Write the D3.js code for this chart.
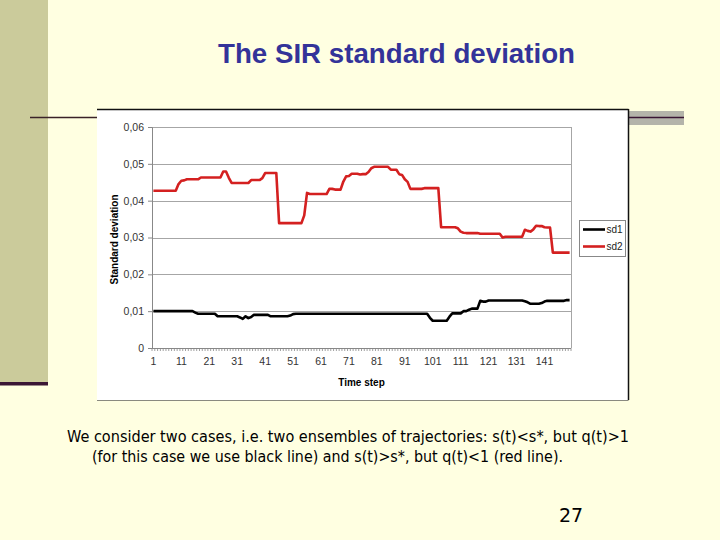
<!DOCTYPE html>
<html>
<head>
<meta charset="utf-8">
<script src="https://cdn.jsdelivr.net/npm/d3@7"></script>
<style>
body { margin: 0; background: #ffffe1; }
svg { display: block; }
</style>
</head>
<body>
<div id="slide"></div>
<script>
// chart data (150 time steps)
var sd1 = [
	0.0100,0.0100,0.0100,0.0100,0.0100,0.0100,0.0100,0.0100,0.0100,0.0100,
	0.0100,0.0100,0.0100,0.0100,0.0100,0.0096,0.0093,0.0093,0.0093,0.0093,
	0.0093,0.0093,0.0093,0.0086,0.0086,0.0086,0.0086,0.0086,0.0086,0.0086,
	0.0086,0.0083,0.0079,0.0086,0.0081,0.0084,0.0090,0.0090,0.0090,0.0090,
	0.0090,0.0090,0.0086,0.0086,0.0086,0.0086,0.0086,0.0086,0.0086,0.0088,
	0.0092,0.0093,0.0093,0.0093,0.0093,0.0093,0.0093,0.0093,0.0093,0.0093,
	0.0093,0.0093,0.0093,0.0093,0.0093,0.0093,0.0093,0.0093,0.0093,0.0093,
	0.0093,0.0093,0.0093,0.0093,0.0093,0.0093,0.0093,0.0093,0.0093,0.0093,
	0.0093,0.0093,0.0093,0.0093,0.0093,0.0093,0.0093,0.0093,0.0093,0.0093,
	0.0093,0.0093,0.0093,0.0093,0.0093,0.0093,0.0093,0.0093,0.0093,0.0082,
	0.0074,0.0074,0.0074,0.0074,0.0074,0.0074,0.0085,0.0094,0.0094,0.0094,
	0.0094,0.0100,0.0100,0.0104,0.0107,0.0107,0.0107,0.0128,0.0126,0.0126,
	0.0129,0.0129,0.0129,0.0129,0.0129,0.0129,0.0129,0.0129,0.0129,0.0129,
	0.0129,0.0129,0.0129,0.0127,0.0124,0.0120,0.0120,0.0120,0.0120,0.0122,
	0.0126,0.0128,0.0128,0.0128,0.0128,0.0128,0.0128,0.0128,0.0130,0.0130
];

var sd2 = [
	0.0427,0.0427,0.0427,0.0427,0.0427,0.0427,0.0427,0.0427,0.0427,0.0445,
	0.0454,0.0455,0.0458,0.0458,0.0458,0.0458,0.0458,0.0463,0.0463,0.0463,
	0.0463,0.0463,0.0463,0.0463,0.0463,0.0479,0.0479,0.0462,0.0448,0.0448,
	0.0448,0.0448,0.0448,0.0448,0.0448,0.0456,0.0456,0.0456,0.0456,0.0461,
	0.0475,0.0475,0.0475,0.0475,0.0475,0.0339,0.0339,0.0339,0.0339,0.0339,
	0.0339,0.0339,0.0339,0.0339,0.0360,0.0421,0.0418,0.0418,0.0418,0.0418,
	0.0418,0.0418,0.0418,0.0432,0.0432,0.0430,0.0430,0.0430,0.0452,0.0466,
	0.0467,0.0473,0.0473,0.0473,0.0471,0.0472,0.0472,0.0478,0.0488,0.0492,
	0.0492,0.0492,0.0492,0.0492,0.0492,0.0484,0.0484,0.0484,0.0472,0.0470,
	0.0458,0.0451,0.0432,0.0432,0.0432,0.0432,0.0432,0.0434,0.0434,0.0434,
	0.0434,0.0434,0.0434,0.0328,0.0328,0.0328,0.0328,0.0328,0.0328,0.0325,
	0.0316,0.0313,0.0312,0.0312,0.0312,0.0312,0.0312,0.0310,0.0310,0.0310,
	0.0310,0.0310,0.0310,0.0310,0.0310,0.0300,0.0302,0.0302,0.0302,0.0302,
	0.0302,0.0302,0.0302,0.0321,0.0318,0.0316,0.0322,0.0332,0.0331,0.0331,
	0.0328,0.0327,0.0327,0.0259,0.0259,0.0259,0.0259,0.0259,0.0259,0.0259
];

var steps = d3.range(1, sd1.length + 1);
var xTickLabels = [1, 11, 21, 31, 41, 51, 61, 71, 81, 91, 101, 111, 121, 131, 141];
var yTicks = [0, 0.01, 0.02, 0.03, 0.04, 0.05, 0.06];
var seriesNames = ["sd1", "sd2"];
var seriesColors = ["#000000", "#d42020"];

var titleText = "The SIR standard deviation";
var noteLines = [
	"We consider two cases, i.e. two ensembles of trajectories: s(t)<s*, but q(t)>1",
	"(for this case we use black line) and s(t)>s*, but q(t)<1 (red line)."
];
var pageNo = "27";

var fw = 720;
var fh = 540;

var svg = d3.select("#slide")
		.append("svg")
		.attr("width", fw)
		.attr("height", fh);

// slide background and decorations
svg.append("rect").attr("width", fw).attr("height", fh).attr("fill", "#ffffe1");
svg.append("rect").attr("x", 0).attr("y", 0).attr("width", 48).attr("height", 382).attr("fill", "#cbcb9b");
svg.append("rect").attr("x", 0).attr("y", 382).attr("width", 48).attr("height", 3.5).attr("fill", "#3a1634");
svg.append("line").attr("x1", 30).attr("x2", 98).attr("y1", 117.5).attr("y2", 117.5)
	.attr("stroke", "#3a2228").attr("stroke-width", 1.6);
svg.append("rect").attr("x", 628).attr("y", 111).attr("width", 56).attr("height", 14).attr("fill", "#b4b4aa");
svg.append("line").attr("x1", 628).attr("x2", 684).attr("y1", 117.5).attr("y2", 117.5)
	.attr("stroke", "#3a1634").attr("stroke-width", 1.6);

svg.append("text")
	.attr("x", 218)
	.attr("y", 63)
	.attr("textLength", 357)
	.attr("lengthAdjust", "spacingAndGlyphs")
	.style("font-family", "Liberation Sans, Arial, sans-serif")
	.style("font-weight", "bold")
	.style("font-size", "27px")
	.attr("fill", "#333399")
	.text(titleText);

// chart frame
svg.append("rect").attr("x", 97).attr("y", 109).attr("width", 531).attr("height", 291).attr("fill", "#ffffff");
svg.append("line").attr("x1", 97).attr("x2", 628.5).attr("y1", 109.5).attr("y2", 109.5).attr("stroke", "#111").attr("stroke-width", 1.5);
svg.append("line").attr("x1", 628.5).attr("x2", 628.5).attr("y1", 109).attr("y2", 400).attr("stroke", "#111").attr("stroke-width", 1.5);
svg.append("line").attr("x1", 97).attr("x2", 628.5).attr("y1", 400.5).attr("y2", 400.5).attr("stroke", "#8a8a80").attr("stroke-width", 1.2);

var mar = { top: 127, left: 152 };
var w = 571 - 152;
var h = 348 - 127;

var g = svg.append("g")
		.attr("transform", "translate(" + mar.left + "," + mar.top + ")");

var x = d3.scaleBand()
		.domain(steps)
		.range([0, w]);

var y = d3.scaleLinear()
		.domain([0, 0.06])
		.range([h, 0]);

var fmt = function(d) { return d === 0 ? "0" : d3.format(".2f")(d).replace(".", ","); };

// gridlines
g.selectAll(".grid")
	.data(yTicks)
	.enter()
	.append("line")
	.attr("class", "grid")
	.attr("x1", 0)
	.attr("x2", w)
	.attr("y1", function(d) { return Math.round(y(d)) + 0.5; })
	.attr("y2", function(d) { return Math.round(y(d)) + 0.5; })
	.attr("stroke", "#a6a6a6")
	.attr("stroke-width", 1);

g.append("line")
	.attr("x1", w + 0.5).attr("x2", w + 0.5)
	.attr("y1", 0).attr("y2", h)
	.attr("stroke", "#a6a6a6");

// y axis
var yA = d3.axisLeft(y)
		.tickValues(yTicks)
		.tickFormat(fmt)
		.tickSize(4)
		.tickPadding(4);

var gy = g.append("g")
	.attr("class", "y")
	.call(yA);
gy.select(".domain").attr("stroke", "#888");
gy.selectAll(".tick line").attr("stroke", "#888");
gy.selectAll("text")
	.style("font-family", "Liberation Sans, Arial, sans-serif")
	.style("font-size", "10.5px")
	.attr("fill", "#333");

// x axis: labels every 10 steps, a tick between every step
var xA = d3.axisBottom(x)
		.tickValues(xTickLabels)
		.tickSize(0)
		.tickPadding(10);

var gx = g.append("g")
	.attr("class", "x")
	.attr("transform", "translate(0," + h + ")")
	.call(xA);
gx.select(".domain").remove();
gx.selectAll("text")
	.style("font-family", "Liberation Sans, Arial, sans-serif")
	.style("font-size", "10.5px")
	.attr("fill", "#333");

g.append("line")
	.attr("x1", 0).attr("x2", w)
	.attr("y1", h + 0.5).attr("y2", h + 0.5)
	.attr("stroke", "#888");

g.selectAll(".minor")
	.data(steps.concat([null]))
	.enter()
	.append("line")
	.attr("class", "minor")
	.attr("x1", function(d) { return d === null ? w : x(d); })
	.attr("x2", function(d) { return d === null ? w : x(d); })
	.attr("y1", h)
	.attr("y2", h + 3)
	.attr("stroke", "#888")
	.attr("stroke-width", 0.8);

// axis titles
g.append("text")
	.attr("transform", "translate(" + (w / 2) + "," + (h + 38) + ")")
	.style("text-anchor", "middle")
	.style("font-family", "Liberation Sans, Arial, sans-serif")
	.style("font-weight", "bold")
	.style("font-size", "10px")
	.text("Time step");

g.append("text")
	.attr("transform", "translate(-34," + (h / 2 + 2) + ") rotate(-90)")
	.style("text-anchor", "middle")
	.style("font-family", "Liberation Sans, Arial, sans-serif")
	.style("font-weight", "bold")
	.style("font-size", "10px")
	.text("Standard deviation");

// series lines
var series = [sd1, sd2];
var line = d3.line()
		.x(function(d, i) { return x(steps[i]) + x.bandwidth() / 2; })
		.y(function(d) { return y(d); });

g.selectAll(".series")
	.data(series)
	.enter()
	.append("path")
	.attr("class", "series")
	.attr("d", line)
	.attr("fill", "none")
	.attr("stroke", function(d, i) { return seriesColors[i]; })
	.attr("stroke-width", 2.6)
	.attr("stroke-linejoin", "round");

// legend
var lg = svg.append("g").attr("transform", "translate(579,220)");
lg.append("rect")
	.attr("x", 0.5).attr("y", 0.5)
	.attr("width", 46).attr("height", 36)
	.attr("fill", "#fff")
	.attr("stroke", "#888");

var li = lg.selectAll(".item")
	.data(seriesNames)
	.enter()
	.append("g")
	.attr("class", "item")
	.attr("transform", function(d, i) { return "translate(0," + (9.5 + i * 17) + ")"; });
li.append("line")
	.attr("x1", 4).attr("x2", 26)
	.attr("stroke", function(d, i) { return seriesColors[i]; })
	.attr("stroke-width", 2.6);
li.append("text")
	.attr("x", 27.5)
	.attr("y", 3.5)
	.style("font-family", "Liberation Sans, Arial, sans-serif")
	.style("font-size", "10px")
	.attr("fill", "#222")
	.text(function(d) { return d; });

// note under the chart
svg.selectAll(".note")
	.data(noteLines)
	.enter()
	.append("text")
	.attr("class", "note")
	.attr("x", function(d, i) { return i === 0 ? 67 : 92; })
	.attr("y", function(d, i) { return 442 + i * 20; })
	.attr("textLength", function(d, i) { return i === 0 ? 562 : 471; })
	.attr("lengthAdjust", "spacingAndGlyphs")
	.style("font-family", "'DejaVu Sans Condensed', 'DejaVu Sans', sans-serif")
	.style("font-size", "15px")
	.attr("fill", "#000")
	.text(function(d) { return d; });

svg.append("text")
	.attr("x", 571)
	.attr("y", 522)
	.style("text-anchor", "middle")
	.style("font-family", "'DejaVu Sans', sans-serif")
	.style("font-size", "19px")
	.attr("fill", "#000")
	.text(pageNo);
</script>
</body>
</html>
